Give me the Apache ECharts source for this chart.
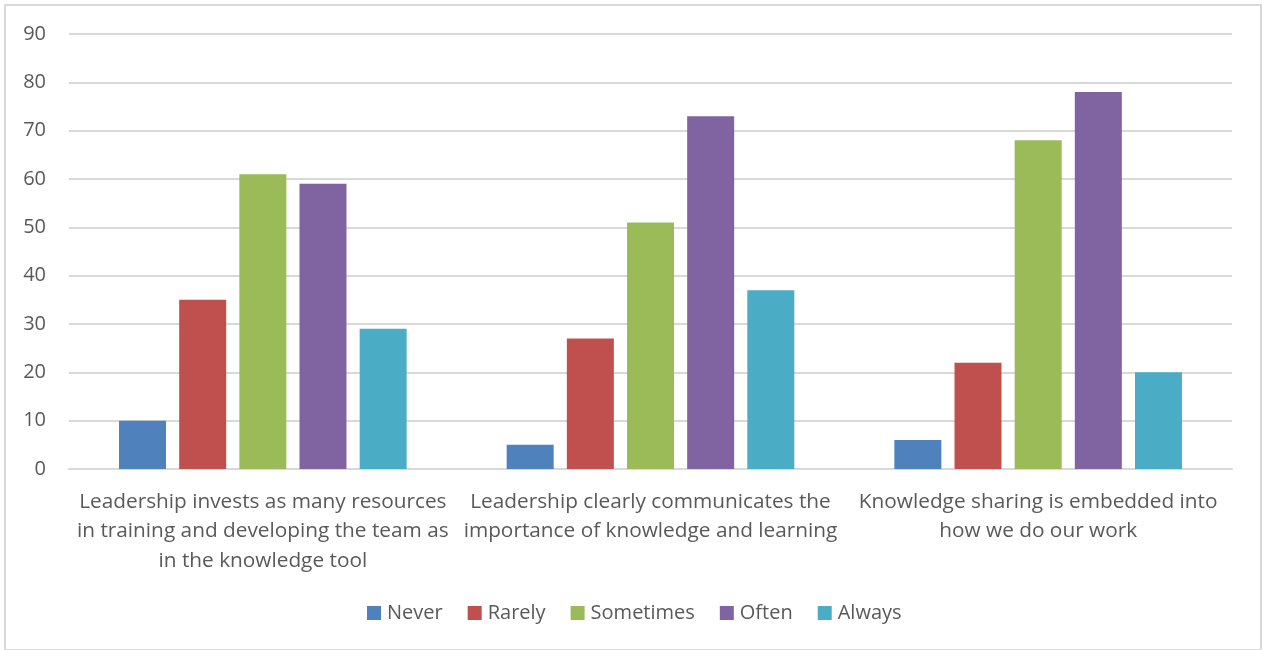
<!DOCTYPE html>
<html>
<head>
<meta charset="utf-8">
<script src="https://cdn.jsdelivr.net/npm/echarts@6/dist/echarts.min.js"></script>
<style>
  html, body { margin: 0; padding: 0; background: #fff; }
  #frame { position: absolute; left: 4px; top: 4px; width: 1254px; height: 643px; border: 2px solid #d9d9d9; box-sizing: content-box; }
  #main { position: absolute; left: 0; top: 0; width: 1262px; height: 650px; }
</style>
</head>
<body>
<div id="frame"></div>
<div id="main"></div>
<script>
// categories (line breaks as in the original)
var categories = [
  'Leadership invests as many resources\nin training and developing the team as\nin the knowledge tool',
  'Leadership clearly communicates the\nimportance of knowledge and learning',
  'Knowledge sharing is embedded into\nhow we do our work'
];
var seriesNames = ['Never', 'Rarely', 'Sometimes', 'Often', 'Always'];
var colors = ['#4f81bd', '#c0504d', '#9bbb59', '#8064a2', '#4bacc6'];
var never = [10, 5, 6];
var rarely = [35, 27, 22];
var sometimes = [61, 51, 68];
var often = [59, 73, 78];
var always = [29, 37, 20];
var values = [never, rarely, sometimes, often, always];

var font = '"Open Sans", "Liberation Sans", sans-serif';

var chart = echarts.init(document.getElementById('main'));

var series = [];
for (var i = 0; i < seriesNames.length; i++) {
  series.push({
    name: seriesNames[i],
    type: 'bar',
    data: values[i],
    barWidth: 47,
    barGap: '28%',
    itemStyle: { color: colors[i] }
  });
}

var option = {
  animation: false,
  color: colors,
  textStyle: { fontFamily: font },
  grid: { left: 69, right: 30, top: 34, bottom: 181, containLabel: false },
  legend: {
    top: 603,
    left: 367,
    padding: 0,
    itemWidth: 14,
    itemHeight: 14,
    itemGap: 25,
    icon: 'rect',
    textStyle: { fontSize: 20, color: '#595959', fontFamily: font, padding: [0, 0, 0, 1] },
    data: seriesNames
  },
  xAxis: {
    type: 'category',
    data: categories,
    axisLine: { lineStyle: { color: '#d9d9d9', width: 2 } },
    axisTick: { show: false },
    axisLabel: {
      interval: 0,
      margin: 18,
      fontSize: 20.8,
      lineHeight: 29.5,
      color: '#595959',
      fontFamily: font
    }
  },
  yAxis: {
    type: 'value',
    min: 0,
    max: 90,
    interval: 10,
    axisLine: { show: false },
    axisTick: { show: false },
    splitLine: { lineStyle: { color: '#d9d9d9', width: 2 } },
    axisLabel: { fontSize: 20, color: '#595959', margin: 23, fontFamily: font }
  },
  series: series
};

chart.setOption(option);
</script>
</body>
</html>
